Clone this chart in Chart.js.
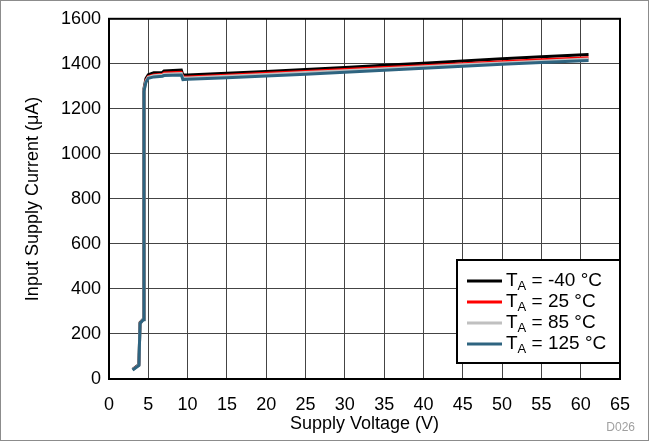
<!DOCTYPE html>
<html>
<head>
<meta charset="utf-8">
<script src="https://cdn.jsdelivr.net/npm/chart.js@4"></script>
<style>
  html, body { margin: 0; padding: 0; background: #fff; }
</style>
</head>
<body>
<canvas id="currentChart" width="649" height="441"></canvas>
<script>
// supply voltage sweep (V)
const voltage = [3.0, 3.8, 3.95, 4.35, 4.45, 4.7, 5.0, 5.7, 6.8, 7.0, 9.2, 9.4, 10, 15, 20, 25, 30, 35, 40, 45, 50, 55, 61];

// input supply current (uA) per ambient temperature
const currentM40 = [42, 63, 250, 265, 1290, 1335, 1352, 1360, 1362, 1368, 1372, 1350, 1350, 1358, 1366, 1375, 1384, 1394, 1403, 1413, 1422, 1431, 1441];
const current25  = [42, 62, 248, 264, 1285, 1328, 1345, 1352, 1355, 1360, 1364, 1343, 1343, 1350, 1359, 1367, 1376, 1385, 1393, 1402, 1410, 1419, 1428];
const current85  = [40, 61, 247, 264, 1282, 1322, 1340, 1347, 1350, 1354, 1357, 1337, 1337, 1345, 1353, 1361, 1369, 1378, 1387, 1396, 1404, 1412, 1421];
const current125 = [40, 60, 246, 263, 1278, 1318, 1336, 1342, 1345, 1348, 1350, 1330, 1331, 1338, 1346, 1354, 1363, 1371, 1380, 1389, 1398, 1406, 1415];

const temperatures = ['-40', '25', '85', '125'];
const seriesColors = ['#000000', '#ff0000', '#c0c0c0', '#2e6480'];
const seriesData = [currentM40, current25, current85, current125];

const FONT = "'Liberation Sans', Arial, Helvetica, sans-serif";

function toPoints(ys) {
    return voltage.map((v, i) => ({ x: v, y: ys[i] }));
}

// frame, legend with subscripts, figure id and outer border
const decorations = {
    id: 'decorations',
    afterDraw(chart) {
        const ctx = chart.ctx;
        const area = chart.chartArea;
        ctx.save();

        // plot frame
        ctx.strokeStyle = '#000';
        ctx.lineWidth = 2;
        ctx.strokeRect(area.left, area.top, area.right - area.left, area.bottom - area.top);

        // legend box
        const boxW = 163, boxH = 103;
        const bx = area.right - boxW;
        const by = area.bottom - 16 - boxH;
        ctx.fillStyle = '#fff';
        ctx.fillRect(bx, by, boxW, boxH);
        ctx.strokeRect(bx, by, boxW, boxH);

        temperatures.forEach((t, i) => {
            const rowY = by + 21 + i * 21;
            ctx.strokeStyle = seriesColors[i];
            ctx.lineWidth = 3;
            ctx.beginPath();
            ctx.moveTo(bx + 10, rowY);
            ctx.lineTo(bx + 45, rowY);
            ctx.stroke();

            ctx.fillStyle = '#000';
            ctx.textBaseline = 'middle';
            ctx.textAlign = 'left';
            let tx = bx + 49;
            ctx.font = '19px ' + FONT;
            ctx.fillText('T', tx, rowY);
            tx += ctx.measureText('T').width;
            ctx.font = '13px ' + FONT;
            ctx.fillText('A', tx, rowY + 5);
            tx += ctx.measureText('A').width;
            ctx.font = '19px ' + FONT;
            ctx.fillText(' = ' + t + ' \u00B0C', tx, rowY);
        });

        // figure id
        ctx.fillStyle = '#a0a0a0';
        ctx.font = '12px ' + FONT;
        ctx.textAlign = 'right';
        ctx.textBaseline = 'middle';
        ctx.fillText('D026', chart.width - 14, 428);

        // outer border
        ctx.strokeStyle = '#8c8c8c';
        ctx.lineWidth = 1;
        ctx.strokeRect(0.5, 0.5, chart.width - 1, chart.height - 1);
        ctx.restore();
    }
};

const ctx = document.getElementById('currentChart').getContext('2d');
const myChart = new Chart(ctx, {
    type: 'line',
    data: {
        datasets: seriesData.map((ys, i) => ({
            label: 'TA = ' + temperatures[i] + ' \u00B0C',
            data: toPoints(ys),
            borderColor: seriesColors[i],
            borderWidth: i === 1 ? 2.5 : 3,
            pointRadius: 0,
            tension: 0,
            fill: false,
            order: 3 - i
        }))
    },
    options: {
        responsive: false,
        animation: false,
        layout: { padding: { top: 18, right: 29, left: 0, bottom: 0 } },
        plugins: {
            legend: { display: false },
            tooltip: { enabled: false }
        },
        scales: {
            x: {
                type: 'linear',
                min: 0,
                max: 65,
                ticks: {
                    stepSize: 5, padding: 15, color: '#000',
                    font: { family: FONT, size: 18 },
                    callback: v => String(v)
                },
                grid: { color: '#444', lineWidth: 1, drawTicks: false },
                border: { display: true, color: '#000', width: 2 },
                title: {
                    display: true,
                    text: 'Supply Voltage (V)',
                    color: '#000',
                    font: { family: FONT, size: 18 },
                    padding: { top: 0, bottom: 6 }
                },
                afterFit(scale) { scale.height = 62; }
            },
            y: {
                min: 0,
                max: 1600,
                ticks: {
                    stepSize: 200, padding: 8, color: '#000',
                    font: { family: FONT, size: 18 },
                    callback: v => String(v)
                },
                grid: { color: '#444', lineWidth: 1, drawTicks: false },
                border: { display: true, color: '#000', width: 2 },
                title: {
                    display: true,
                    text: 'Input Supply Current (\u03BCA)',
                    color: '#000',
                    font: { family: FONT, size: 18 },
                    padding: { top: 22, bottom: 0 }
                },
                afterFit(scale) { scale.width = 109; }
            }
        }
    },
    plugins: [decorations]
});
</script>
</body>
</html>
